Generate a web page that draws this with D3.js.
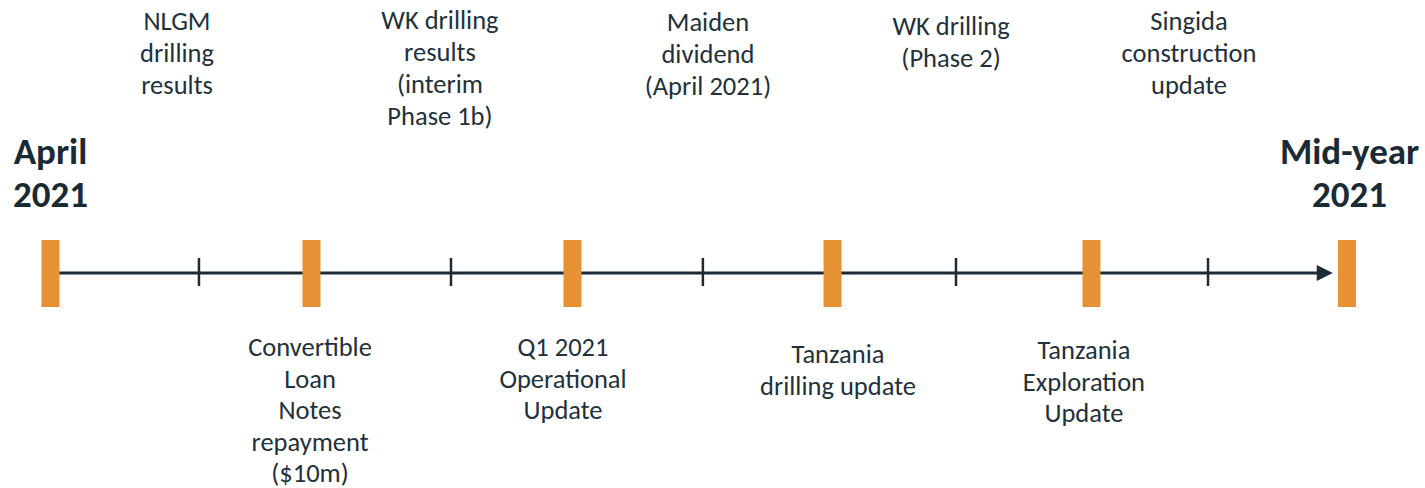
<!DOCTYPE html>
<html>
<head>
<meta charset="utf-8">
<script src="https://cdn.jsdelivr.net/npm/d3@7"></script>
<style>
  html, body { margin: 0; padding: 0; background: #fff; }
  svg { display: block; }
</style>
</head>
<body>
<div id="chart"></div>
<script>
// positions are in "timeline percent": 0 = April 2021, 100 = mid-year 2021
const milestones = [0, 20.13, 40.26, 60.32, 80.29, 100];
const ticks = [11.45, 30.89, 50.32, 69.84, 89.28];
const arrowEnd = 98.9;

const endLabels = [
  { pos: 0, lines: ['April', '2021'] },
  { pos: 100.2, lines: ['Mid-year', '2021'] }
];

const topLabels = [
  { pos: 9.76, y: 30, lines: ['NLGM', 'drilling', 'results'] },
  { pos: 30.04, y: 29, lines: ['WK drilling', 'results', '(interim', 'Phase 1b)'] },
  { pos: 50.71, y: 31, lines: ['Maiden', 'dividend', '(April 2021)'] },
  { pos: 69.46, y: 35, lines: ['WK drilling', '(Phase 2)'] },
  { pos: 87.81, y: 30, lines: ['Singida', 'construction', 'update'] }
];

const bottomLabels = [
  { pos: 20.02, y: 356, lines: ['Convertible', 'Loan', 'Notes', 'repayment', '($10m)'] },
  { pos: 39.53, y: 356, lines: ['Q1 2021', 'Operational', 'Update'] },
  { pos: 60.74, y: 363, lines: ['Tanzania', 'drilling update'] },
  { pos: 79.71, y: 359, lines: ['Tanzania', 'Exploration', 'Update'] }
];

const width = 1425;
const height = 488;
const lineY = 273;
const orange = '#e69234';
const dark = '#1c2b35';
const textColor = '#22313b';
const font = 'Carlito, Calibri, Lato, sans-serif';

const svg = d3.select('#chart')
  .append('svg')
  .attr('width', width)
  .attr('height', height);

const x = d3.scaleLinear().domain([0, 100]).range([50.5, 1347]);

// main line + arrow head
svg.append('line')
  .attr('x1', x(0))
  .attr('x2', x(arrowEnd) - 12)
  .attr('y1', lineY)
  .attr('y2', lineY)
  .attr('stroke', dark)
  .attr('stroke-width', 3);

svg.append('path')
  .attr('d', `M${x(arrowEnd)},${lineY} L${x(arrowEnd) - 16},${lineY - 8} L${x(arrowEnd) - 16},${lineY + 8} Z`)
  .attr('fill', dark);

svg.selectAll('.tick')
  .data(ticks)
  .enter()
  .append('line')
  .attr('class', 'tick')
  .attr('x1', d => x(d))
  .attr('x2', d => x(d))
  .attr('y1', lineY - 15)
  .attr('y2', lineY + 13)
  .attr('stroke', dark)
  .attr('stroke-width', 2.5);

svg.selectAll('.milestone')
  .data(milestones)
  .enter()
  .append('rect')
  .attr('class', 'milestone')
  .attr('x', d => x(d) - 9)
  .attr('y', 240)
  .attr('width', 18)
  .attr('height', 67)
  .attr('fill', orange);

function drawLabels(data, lineHeight, size, weight, color) {
  svg.selectAll(null)
    .data(data)
    .enter()
    .append('text')
    .attr('text-anchor', 'middle')
    .style('font-family', font)
    .style('font-size', size + 'px')
    .style('font-weight', weight)
    .style('fill', color)
    .each(function (d) {
      d3.select(this).selectAll('tspan')
        .data(d.lines)
        .enter()
        .append('tspan')
        .attr('x', x(d.pos))
        .attr('y', (_, i) => d.y + i * lineHeight)
        .text(t => t);
    });
}

drawLabels(endLabels.map(d => ({ ...d, y: 164 })), 43, 37, 700, '#1a2a34');
drawLabels(topLabels, 32, 26.5, 400, textColor);
drawLabels(bottomLabels, 31.5, 26.5, 400, textColor);
</script>
</body>
</html>
